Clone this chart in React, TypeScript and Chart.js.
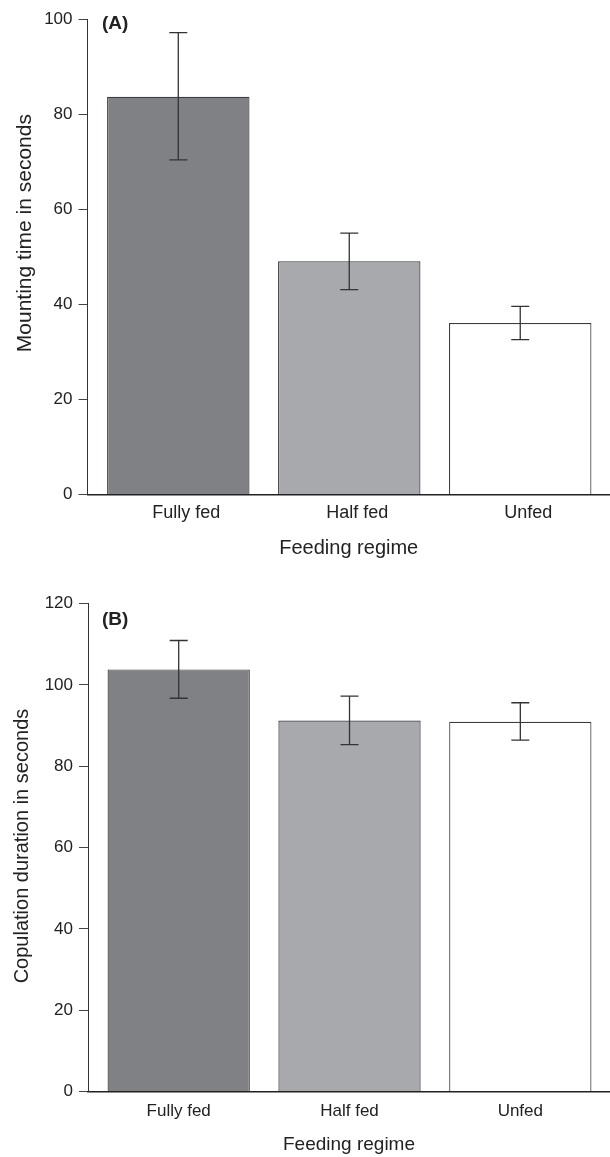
import React, { useEffect, useRef } from 'react';
import { Chart, registerables } from 'chart.js';

Chart.register(...registerables);

// ---- data ----
const categories = ['Fully fed', 'Half fed', 'Unfed'];
const barColors = ['#808185', '#a8a9ac', '#ffffff'];

const mountingMeans = [83.7, 49.1, 36.1];
const mountingUpper = [97.2, 55.0, 39.6];
const mountingLower = [70.4, 43.1, 32.6];
const mountingTicks = [0, 20, 40, 60, 80, 100];

const copulationMeans = [103.8, 91.2, 90.9];
const copulationUpper = [110.9, 97.2, 95.6];
const copulationLower = [96.7, 85.3, 86.4];
const copulationTicks = [0, 20, 40, 60, 80, 100, 120];

const FONT = '"Liberation Sans", Arial, Helvetica, sans-serif';
const TEXT = '#222222';

const errorBarPlugin = {
  id: 'errorBars',
  afterDatasetsDraw(chart: any, _args: any, opts: any) {
    const { ctx } = chart;
    const meta = chart.getDatasetMeta(0);
    const y = chart.scales.y;
    ctx.save();
    ctx.strokeStyle = opts.color;
    ctx.lineWidth = opts.width;
    meta.data.forEach((el: any, i: number) => {
      const x = el.x;
      const hi = y.getPixelForValue(opts.upper[i]);
      const lo = y.getPixelForValue(opts.lower[i]);
      const c = opts.cap / 2;
      ctx.beginPath();
      ctx.moveTo(x, hi);
      ctx.lineTo(x, lo);
      ctx.moveTo(x - c, hi);
      ctx.lineTo(x + c, hi);
      ctx.moveTo(x - c, lo);
      ctx.lineTo(x + c, lo);
      ctx.stroke();
    });
    ctx.restore();
  },
};

const annotationPlugin = {
  id: 'panelText',
  afterDraw(chart: any, _args: any, opts: any) {
    const { ctx, chartArea } = chart;
    ctx.save();
    ctx.fillStyle = TEXT;
    ctx.font = `${opts.yTitleSize}px ${FONT}`;
    ctx.textAlign = 'center';
    ctx.textBaseline = 'middle';
    const cy = chartArea.top + (chartArea.bottom - chartArea.top) * opts.yTitleFrac;
    ctx.translate(opts.yTitleX, cy);
    ctx.rotate(-Math.PI / 2);
    ctx.fillText(opts.yTitle, 0, 0);
    ctx.restore();
    ctx.save();
    ctx.fillStyle = TEXT;
    ctx.font = `bold ${opts.labelSize}px ${FONT}`;
    ctx.textAlign = 'left';
    ctx.textBaseline = 'alphabetic';
    ctx.fillText(opts.label, chartArea.left + opts.labelDx, chartArea.top + opts.labelDy);
    ctx.restore();
  },
};

type PanelProps = {
  top: number;
  height: number;
  means: number[];
  upper: number[];
  lower: number[];
  yTicks: number[];
  yTitle: string;
  label: string;
  cfg: any;
};

function Panel({ top, height, means, upper, lower, yTicks, yTitle, label, cfg }: PanelProps) {
  const ref = useRef<HTMLCanvasElement | null>(null);
  useEffect(() => {
    if (!ref.current) return;
    const chart = new Chart(ref.current, {
      type: 'bar',
      data: {
        datasets: [
          {
            data: categories.map((_, i) => ({ x: i + 1, y: means[i] })),
            backgroundColor: barColors,
            borderColor: '#3c3c3c',
            borderWidth: 1.2,
            barPercentage: 0.833,
            categoryPercentage: 1,
          } as any,
        ],
      },
      options: {
        animation: false,
        responsive: false,
        maintainAspectRatio: false,
        layout: { padding: { top: cfg.padTop, left: 0, right: 0, bottom: 0 } },
        plugins: {
          legend: { display: false },
          tooltip: { enabled: false },
          errorBars: { upper, lower, color: '#333333', width: 1.3, cap: 18 },
          panelText: {
            yTitle,
            yTitleSize: cfg.yTitleSize,
            yTitleX: cfg.yTitleX,
            yTitleFrac: cfg.yTitleFrac,
            label,
            labelSize: 19,
            labelDx: cfg.labelDx,
            labelDy: cfg.labelDy,
          },
        } as any,
        scales: {
          x: {
            type: 'linear',
            min: 0.469,
            max: 3.525,
            offset: false,
            grace: 0,
            afterBuildTicks: (s: any) => {
              s.ticks = categories.map((_, i) => ({ value: i + 1 }));
            },
            afterFit: (s: any) => {
              s.height = cfg.xHeight;
            },
            grid: { display: false, drawTicks: false, offset: false },
            border: { display: true, color: '#222222', width: 1.5 },
            ticks: {
              autoSkip: false,
              maxRotation: 0,
              padding: cfg.xTickPad,
              labelOffset: cfg.xLabelOffset,
              color: TEXT,
              font: { family: FONT, size: cfg.xTickSize },
              callback: (v: any) => categories[Math.round(Number(v)) - 1] ?? '',
            },
            title: {
              display: true,
              text: 'Feeding regime',
              color: TEXT,
              font: { family: FONT, size: cfg.xTitleSize },
              padding: { top: 0, bottom: cfg.xTitlePadBottom },
            },
          },
          y: {
            min: yTicks[0],
            max: yTicks[yTicks.length - 1],
            afterBuildTicks: (s: any) => {
              s.ticks = yTicks.map((v) => ({ value: v }));
            },
            afterFit: (s: any) => {
              s.width = cfg.yWidth;
            },
            grid: {
              display: true,
              drawOnChartArea: false,
              drawTicks: true,
              tickLength: 9,
              color: '#444444',
              lineWidth: 1,
            },
            border: { display: true, color: '#333333', width: 1 },
            ticks: {
              padding: 6,
              color: TEXT,
              font: { family: FONT, size: 17 },
            },
          },
        },
      } as any,
      plugins: [errorBarPlugin as any, annotationPlugin as any],
    });
    return () => chart.destroy();
  }, []);
  return (
    <canvas
      ref={ref}
      width={610}
      height={height}
      style={{ position: 'absolute', left: 0, top, width: 610, height, display: 'block' }}
    />
  );
}

export default function App() {
  return (
    <div style={{ position: 'absolute', left: 0, top: 0, width: 610, height: 1157, background: '#fff' }}>
      <Panel
        top={0}
        height={575}
        means={mountingMeans}
        upper={mountingUpper}
        lower={mountingLower}
        yTicks={mountingTicks}
        yTitle="Mounting time in seconds"
        label="(A)"
        cfg={{
          padTop: 19.3,
          xHeight: 80.5,
          yWidth: 87.5,
          xTickPad: 8,
          xTickSize: 18,
          xLabelOffset: 8,
          xTitleSize: 20,
          xTitlePadBottom: 14.5,
          yTitleSize: 21,
          yTitleX: 25,
          yTitleFrac: 0.45,
          labelDx: 14.5,
          labelDy: 9.2,
        }}
      />
      <Panel
        top={580}
        height={577}
        means={copulationMeans}
        upper={copulationUpper}
        lower={copulationLower}
        yTicks={copulationTicks}
        yTitle="Copulation duration in seconds"
        label="(B)"
        cfg={{
          padTop: 23.5,
          xHeight: 65.5,
          yWidth: 88,
          xTickPad: 9.5,
          xTickSize: 17,
          xLabelOffset: 0,
          xTitleSize: 19,
          xTitlePadBottom: 1.2,
          yTitleSize: 20,
          yTitleX: 22,
          yTitleFrac: 0.497,
          labelDx: 14,
          labelDy: 21.5,
        }}
      />
    </div>
  );
}
